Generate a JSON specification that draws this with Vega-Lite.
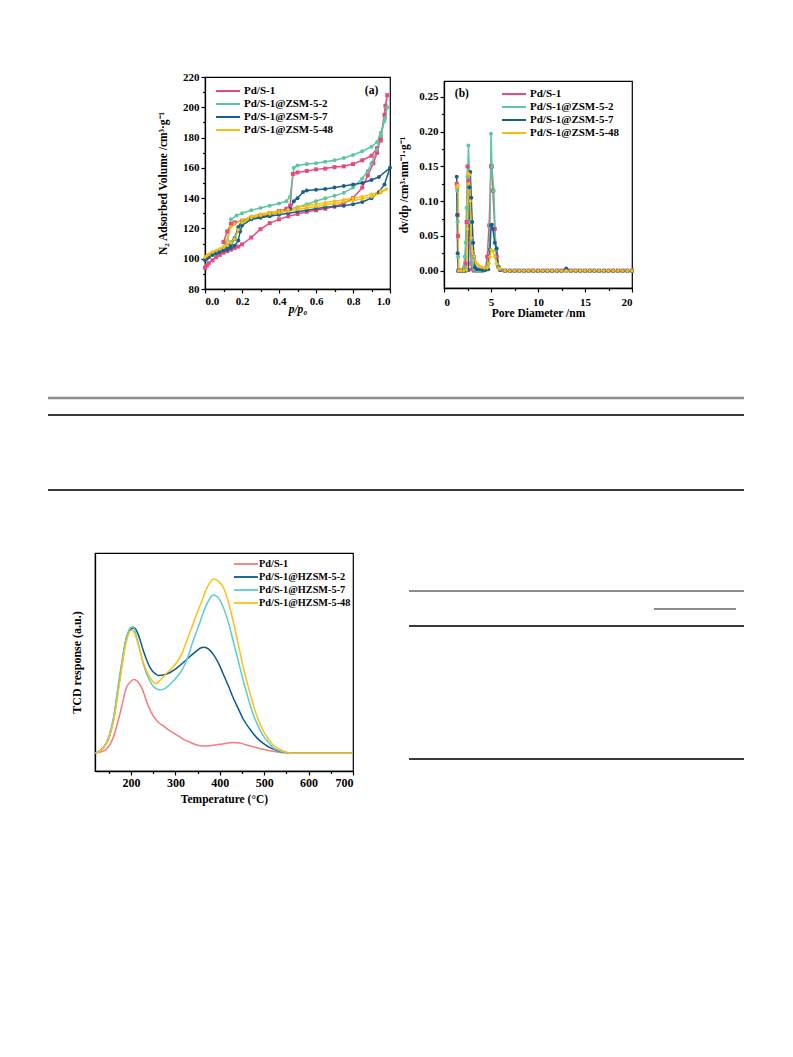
{
"$schema": "https://vega.github.io/schema/vega-lite/v6.json",
"padding": {"left": 46, "top": 70, "right": 0, "bottom": 0},
"spacing": 0,
"resolve": {"scale": {"color": "independent", "shape": "independent", "size": "independent"}, "legend": {"color": "independent", "shape": "independent", "size": "independent"}},
"config": {
  "font": "Liberation Serif",
  "view": {"stroke": null},
  "axis": {"labelFont": "Liberation Serif", "titleFont": "Liberation Serif", "labelFontWeight": "bold", "titleFontWeight": "bold", "labelColor": "black", "titleColor": "black", "domainColor": "black", "tickColor": "black", "grid": false, "labelFontSize": 11, "titleFontSize": 11.5, "domainWidth": 1.3, "tickWidth": 1.2, "tickSize": 4, "labelPadding": 2},
  "legend": {"labelFont": "Liberation Serif", "labelFontWeight": "bold", "labelFontSize": 11, "labelColor": "black", "symbolType": "M-2.4,0H2.4", "symbolStrokeWidth": 2, "symbolSize": 100, "rowPadding": 2, "labelOffset": 10, "padding": 0}
},
"datasets": {
"iso": [
{"s":"Pd/S-1","i":0,"x":0.0,"y":94},{"s":"Pd/S-1","i":1,"x":0.01,"y":95.5},{"s":"Pd/S-1","i":2,"x":0.02,"y":97},{"s":"Pd/S-1","i":3,"x":0.04,"y":99},{"s":"Pd/S-1","i":4,"x":0.06,"y":101},{"s":"Pd/S-1","i":5,"x":0.08,"y":102.5},{"s":"Pd/S-1","i":6,"x":0.1,"y":104},{"s":"Pd/S-1","i":7,"x":0.12,"y":105},{"s":"Pd/S-1","i":8,"x":0.14,"y":106},{"s":"Pd/S-1","i":9,"x":0.16,"y":107},{"s":"Pd/S-1","i":10,"x":0.18,"y":108},{"s":"Pd/S-1","i":11,"x":0.2,"y":109.5},{"s":"Pd/S-1","i":12,"x":0.25,"y":114},{"s":"Pd/S-1","i":13,"x":0.3,"y":119.5},{"s":"Pd/S-1","i":14,"x":0.35,"y":123.5},{"s":"Pd/S-1","i":15,"x":0.4,"y":126},{"s":"Pd/S-1","i":16,"x":0.45,"y":128},{"s":"Pd/S-1","i":17,"x":0.5,"y":129.5},{"s":"Pd/S-1","i":18,"x":0.55,"y":131},{"s":"Pd/S-1","i":19,"x":0.6,"y":132},{"s":"Pd/S-1","i":20,"x":0.65,"y":133},{"s":"Pd/S-1","i":21,"x":0.7,"y":134.5},{"s":"Pd/S-1","i":22,"x":0.75,"y":136.5},{"s":"Pd/S-1","i":23,"x":0.8,"y":140},{"s":"Pd/S-1","i":24,"x":0.85,"y":147},{"s":"Pd/S-1","i":25,"x":0.88,"y":155},{"s":"Pd/S-1","i":26,"x":0.91,"y":163},{"s":"Pd/S-1","i":27,"x":0.93,"y":170},{"s":"Pd/S-1","i":28,"x":0.95,"y":180},{"s":"Pd/S-1","i":29,"x":0.97,"y":195},{"s":"Pd/S-1","i":30,"x":0.985,"y":208},
{"s":"Pd/S-1","i":31,"x":0.975,"y":201},{"s":"Pd/S-1","i":32,"x":0.95,"y":178},{"s":"Pd/S-1","i":33,"x":0.93,"y":173},{"s":"Pd/S-1","i":34,"x":0.9,"y":168},{"s":"Pd/S-1","i":35,"x":0.85,"y":165},{"s":"Pd/S-1","i":36,"x":0.8,"y":162.5},{"s":"Pd/S-1","i":37,"x":0.75,"y":161},{"s":"Pd/S-1","i":38,"x":0.7,"y":160.5},{"s":"Pd/S-1","i":39,"x":0.65,"y":159.5},{"s":"Pd/S-1","i":40,"x":0.6,"y":159},{"s":"Pd/S-1","i":41,"x":0.55,"y":158},{"s":"Pd/S-1","i":42,"x":0.5,"y":157},{"s":"Pd/S-1","i":43,"x":0.475,"y":156},{"s":"Pd/S-1","i":44,"x":0.46,"y":135},{"s":"Pd/S-1","i":45,"x":0.44,"y":133},{"s":"Pd/S-1","i":46,"x":0.4,"y":131.5},{"s":"Pd/S-1","i":47,"x":0.35,"y":130},{"s":"Pd/S-1","i":48,"x":0.3,"y":128.5},{"s":"Pd/S-1","i":49,"x":0.25,"y":127},{"s":"Pd/S-1","i":50,"x":0.2,"y":125},{"s":"Pd/S-1","i":51,"x":0.16,"y":124},{"s":"Pd/S-1","i":52,"x":0.14,"y":123},{"s":"Pd/S-1","i":53,"x":0.12,"y":118},{"s":"Pd/S-1","i":54,"x":0.1,"y":111},
{"s":"Pd/S-1@ZSM-5-2","i":0,"x":0.0,"y":100},{"s":"Pd/S-1@ZSM-5-2","i":1,"x":0.01,"y":101},{"s":"Pd/S-1@ZSM-5-2","i":2,"x":0.02,"y":102},{"s":"Pd/S-1@ZSM-5-2","i":3,"x":0.04,"y":103},{"s":"Pd/S-1@ZSM-5-2","i":4,"x":0.06,"y":104.5},{"s":"Pd/S-1@ZSM-5-2","i":5,"x":0.08,"y":105.5},{"s":"Pd/S-1@ZSM-5-2","i":6,"x":0.1,"y":107},{"s":"Pd/S-1@ZSM-5-2","i":7,"x":0.12,"y":109},{"s":"Pd/S-1@ZSM-5-2","i":8,"x":0.14,"y":111},{"s":"Pd/S-1@ZSM-5-2","i":9,"x":0.16,"y":114},{"s":"Pd/S-1@ZSM-5-2","i":10,"x":0.18,"y":119},{"s":"Pd/S-1@ZSM-5-2","i":11,"x":0.2,"y":124},{"s":"Pd/S-1@ZSM-5-2","i":12,"x":0.25,"y":126},{"s":"Pd/S-1@ZSM-5-2","i":13,"x":0.3,"y":127.5},{"s":"Pd/S-1@ZSM-5-2","i":14,"x":0.35,"y":129},{"s":"Pd/S-1@ZSM-5-2","i":15,"x":0.4,"y":130.5},{"s":"Pd/S-1@ZSM-5-2","i":16,"x":0.45,"y":132},{"s":"Pd/S-1@ZSM-5-2","i":17,"x":0.5,"y":134},{"s":"Pd/S-1@ZSM-5-2","i":18,"x":0.55,"y":136},{"s":"Pd/S-1@ZSM-5-2","i":19,"x":0.6,"y":138},{"s":"Pd/S-1@ZSM-5-2","i":20,"x":0.65,"y":140},{"s":"Pd/S-1@ZSM-5-2","i":21,"x":0.7,"y":141.5},{"s":"Pd/S-1@ZSM-5-2","i":22,"x":0.75,"y":143.5},{"s":"Pd/S-1@ZSM-5-2","i":23,"x":0.8,"y":147},{"s":"Pd/S-1@ZSM-5-2","i":24,"x":0.85,"y":153},{"s":"Pd/S-1@ZSM-5-2","i":25,"x":0.88,"y":158},{"s":"Pd/S-1@ZSM-5-2","i":26,"x":0.9,"y":163},{"s":"Pd/S-1@ZSM-5-2","i":27,"x":0.93,"y":172},{"s":"Pd/S-1@ZSM-5-2","i":28,"x":0.95,"y":181},{"s":"Pd/S-1@ZSM-5-2","i":29,"x":0.97,"y":191},{"s":"Pd/S-1@ZSM-5-2","i":30,"x":0.985,"y":200},
{"s":"Pd/S-1@ZSM-5-2","i":31,"x":0.975,"y":193},{"s":"Pd/S-1@ZSM-5-2","i":32,"x":0.95,"y":183},{"s":"Pd/S-1@ZSM-5-2","i":33,"x":0.93,"y":177},{"s":"Pd/S-1@ZSM-5-2","i":34,"x":0.9,"y":174},{"s":"Pd/S-1@ZSM-5-2","i":35,"x":0.85,"y":171},{"s":"Pd/S-1@ZSM-5-2","i":36,"x":0.8,"y":168.5},{"s":"Pd/S-1@ZSM-5-2","i":37,"x":0.75,"y":166.5},{"s":"Pd/S-1@ZSM-5-2","i":38,"x":0.7,"y":165},{"s":"Pd/S-1@ZSM-5-2","i":39,"x":0.65,"y":164},{"s":"Pd/S-1@ZSM-5-2","i":40,"x":0.6,"y":163},{"s":"Pd/S-1@ZSM-5-2","i":41,"x":0.55,"y":162.5},{"s":"Pd/S-1@ZSM-5-2","i":42,"x":0.5,"y":161.5},{"s":"Pd/S-1@ZSM-5-2","i":43,"x":0.48,"y":160},{"s":"Pd/S-1@ZSM-5-2","i":44,"x":0.46,"y":141},{"s":"Pd/S-1@ZSM-5-2","i":45,"x":0.44,"y":138},{"s":"Pd/S-1@ZSM-5-2","i":46,"x":0.4,"y":136.5},{"s":"Pd/S-1@ZSM-5-2","i":47,"x":0.35,"y":135},{"s":"Pd/S-1@ZSM-5-2","i":48,"x":0.3,"y":133.5},{"s":"Pd/S-1@ZSM-5-2","i":49,"x":0.25,"y":132},{"s":"Pd/S-1@ZSM-5-2","i":50,"x":0.2,"y":130},{"s":"Pd/S-1@ZSM-5-2","i":51,"x":0.17,"y":128.5},{"s":"Pd/S-1@ZSM-5-2","i":52,"x":0.14,"y":126},{"s":"Pd/S-1@ZSM-5-2","i":53,"x":0.12,"y":112},{"s":"Pd/S-1@ZSM-5-2","i":54,"x":0.1,"y":107},
{"s":"Pd/S-1@ZSM-5-7","i":0,"x":0.0,"y":99},{"s":"Pd/S-1@ZSM-5-7","i":1,"x":0.01,"y":100},{"s":"Pd/S-1@ZSM-5-7","i":2,"x":0.02,"y":101},{"s":"Pd/S-1@ZSM-5-7","i":3,"x":0.04,"y":102.5},{"s":"Pd/S-1@ZSM-5-7","i":4,"x":0.06,"y":103.5},{"s":"Pd/S-1@ZSM-5-7","i":5,"x":0.08,"y":104.5},{"s":"Pd/S-1@ZSM-5-7","i":6,"x":0.1,"y":105.5},{"s":"Pd/S-1@ZSM-5-7","i":7,"x":0.12,"y":106},{"s":"Pd/S-1@ZSM-5-7","i":8,"x":0.14,"y":107},{"s":"Pd/S-1@ZSM-5-7","i":9,"x":0.16,"y":108.5},{"s":"Pd/S-1@ZSM-5-7","i":10,"x":0.18,"y":112},{"s":"Pd/S-1@ZSM-5-7","i":11,"x":0.19,"y":118},{"s":"Pd/S-1@ZSM-5-7","i":12,"x":0.2,"y":122},{"s":"Pd/S-1@ZSM-5-7","i":13,"x":0.25,"y":126},{"s":"Pd/S-1@ZSM-5-7","i":14,"x":0.3,"y":127},{"s":"Pd/S-1@ZSM-5-7","i":15,"x":0.35,"y":128},{"s":"Pd/S-1@ZSM-5-7","i":16,"x":0.4,"y":129},{"s":"Pd/S-1@ZSM-5-7","i":17,"x":0.45,"y":130},{"s":"Pd/S-1@ZSM-5-7","i":18,"x":0.5,"y":131},{"s":"Pd/S-1@ZSM-5-7","i":19,"x":0.55,"y":132},{"s":"Pd/S-1@ZSM-5-7","i":20,"x":0.6,"y":133},{"s":"Pd/S-1@ZSM-5-7","i":21,"x":0.65,"y":134},{"s":"Pd/S-1@ZSM-5-7","i":22,"x":0.7,"y":134.5},{"s":"Pd/S-1@ZSM-5-7","i":23,"x":0.75,"y":135},{"s":"Pd/S-1@ZSM-5-7","i":24,"x":0.8,"y":136},{"s":"Pd/S-1@ZSM-5-7","i":25,"x":0.85,"y":137.5},{"s":"Pd/S-1@ZSM-5-7","i":26,"x":0.9,"y":140},{"s":"Pd/S-1@ZSM-5-7","i":27,"x":0.94,"y":144},{"s":"Pd/S-1@ZSM-5-7","i":28,"x":0.97,"y":149},{"s":"Pd/S-1@ZSM-5-7","i":29,"x":1.0,"y":160},
{"s":"Pd/S-1@ZSM-5-7","i":30,"x":0.94,"y":154},{"s":"Pd/S-1@ZSM-5-7","i":31,"x":0.9,"y":152},{"s":"Pd/S-1@ZSM-5-7","i":32,"x":0.85,"y":150},{"s":"Pd/S-1@ZSM-5-7","i":33,"x":0.8,"y":149},{"s":"Pd/S-1@ZSM-5-7","i":34,"x":0.75,"y":148},{"s":"Pd/S-1@ZSM-5-7","i":35,"x":0.7,"y":147},{"s":"Pd/S-1@ZSM-5-7","i":36,"x":0.65,"y":146},{"s":"Pd/S-1@ZSM-5-7","i":37,"x":0.6,"y":145.5},{"s":"Pd/S-1@ZSM-5-7","i":38,"x":0.55,"y":145},{"s":"Pd/S-1@ZSM-5-7","i":39,"x":0.53,"y":144},{"s":"Pd/S-1@ZSM-5-7","i":40,"x":0.5,"y":140},{"s":"Pd/S-1@ZSM-5-7","i":41,"x":0.48,"y":138},{"s":"Pd/S-1@ZSM-5-7","i":42,"x":0.46,"y":133},{"s":"Pd/S-1@ZSM-5-7","i":43,"x":0.4,"y":131},{"s":"Pd/S-1@ZSM-5-7","i":44,"x":0.35,"y":129},{"s":"Pd/S-1@ZSM-5-7","i":45,"x":0.3,"y":128},{"s":"Pd/S-1@ZSM-5-7","i":46,"x":0.25,"y":127},{"s":"Pd/S-1@ZSM-5-7","i":47,"x":0.2,"y":125},{"s":"Pd/S-1@ZSM-5-7","i":48,"x":0.18,"y":121},{"s":"Pd/S-1@ZSM-5-7","i":49,"x":0.16,"y":113},{"s":"Pd/S-1@ZSM-5-7","i":50,"x":0.14,"y":109},{"s":"Pd/S-1@ZSM-5-7","i":51,"x":0.12,"y":106.5},
{"s":"Pd/S-1@ZSM-5-48","i":0,"x":0.0,"y":101},{"s":"Pd/S-1@ZSM-5-48","i":1,"x":0.01,"y":102},{"s":"Pd/S-1@ZSM-5-48","i":2,"x":0.02,"y":103},{"s":"Pd/S-1@ZSM-5-48","i":3,"x":0.04,"y":104.5},{"s":"Pd/S-1@ZSM-5-48","i":4,"x":0.06,"y":105.5},{"s":"Pd/S-1@ZSM-5-48","i":5,"x":0.08,"y":106.5},{"s":"Pd/S-1@ZSM-5-48","i":6,"x":0.1,"y":107.5},{"s":"Pd/S-1@ZSM-5-48","i":7,"x":0.12,"y":109},{"s":"Pd/S-1@ZSM-5-48","i":8,"x":0.14,"y":110.5},{"s":"Pd/S-1@ZSM-5-48","i":9,"x":0.16,"y":113},{"s":"Pd/S-1@ZSM-5-48","i":10,"x":0.18,"y":119},{"s":"Pd/S-1@ZSM-5-48","i":11,"x":0.2,"y":124},{"s":"Pd/S-1@ZSM-5-48","i":12,"x":0.25,"y":127},{"s":"Pd/S-1@ZSM-5-48","i":13,"x":0.3,"y":128.5},{"s":"Pd/S-1@ZSM-5-48","i":14,"x":0.35,"y":129.5},{"s":"Pd/S-1@ZSM-5-48","i":15,"x":0.4,"y":130.5},{"s":"Pd/S-1@ZSM-5-48","i":16,"x":0.45,"y":131.5},{"s":"Pd/S-1@ZSM-5-48","i":17,"x":0.5,"y":132.5},{"s":"Pd/S-1@ZSM-5-48","i":18,"x":0.55,"y":133.5},{"s":"Pd/S-1@ZSM-5-48","i":19,"x":0.6,"y":134.5},{"s":"Pd/S-1@ZSM-5-48","i":20,"x":0.65,"y":135.5},{"s":"Pd/S-1@ZSM-5-48","i":21,"x":0.7,"y":136.5},{"s":"Pd/S-1@ZSM-5-48","i":22,"x":0.75,"y":137.5},{"s":"Pd/S-1@ZSM-5-48","i":23,"x":0.8,"y":138.5},{"s":"Pd/S-1@ZSM-5-48","i":24,"x":0.85,"y":139.5},{"s":"Pd/S-1@ZSM-5-48","i":25,"x":0.9,"y":141},{"s":"Pd/S-1@ZSM-5-48","i":26,"x":0.95,"y":143.5},{"s":"Pd/S-1@ZSM-5-48","i":27,"x":0.98,"y":146},
{"s":"Pd/S-1@ZSM-5-48","i":28,"x":0.95,"y":144.5},{"s":"Pd/S-1@ZSM-5-48","i":29,"x":0.9,"y":142.5},{"s":"Pd/S-1@ZSM-5-48","i":30,"x":0.85,"y":141},{"s":"Pd/S-1@ZSM-5-48","i":31,"x":0.8,"y":140},{"s":"Pd/S-1@ZSM-5-48","i":32,"x":0.75,"y":139},{"s":"Pd/S-1@ZSM-5-48","i":33,"x":0.7,"y":138},{"s":"Pd/S-1@ZSM-5-48","i":34,"x":0.65,"y":137},{"s":"Pd/S-1@ZSM-5-48","i":35,"x":0.6,"y":136},{"s":"Pd/S-1@ZSM-5-48","i":36,"x":0.55,"y":135},{"s":"Pd/S-1@ZSM-5-48","i":37,"x":0.5,"y":134},{"s":"Pd/S-1@ZSM-5-48","i":38,"x":0.45,"y":132.5},{"s":"Pd/S-1@ZSM-5-48","i":39,"x":0.4,"y":131.5},{"s":"Pd/S-1@ZSM-5-48","i":40,"x":0.35,"y":130.5},{"s":"Pd/S-1@ZSM-5-48","i":41,"x":0.3,"y":129.5},{"s":"Pd/S-1@ZSM-5-48","i":42,"x":0.25,"y":128},{"s":"Pd/S-1@ZSM-5-48","i":43,"x":0.2,"y":125.5},{"s":"Pd/S-1@ZSM-5-48","i":44,"x":0.16,"y":123},{"s":"Pd/S-1@ZSM-5-48","i":45,"x":0.14,"y":121},{"s":"Pd/S-1@ZSM-5-48","i":46,"x":0.12,"y":112},{"s":"Pd/S-1@ZSM-5-48","i":47,"x":0.1,"y":108}
],
"psd": [
{"s":"Pd/S-1","x":1.35,"y":0.125},{"s":"Pd/S-1","x":1.4,"y":0.12},{"s":"Pd/S-1","x":1.45,"y":0.08},{"s":"Pd/S-1","x":1.5,"y":0.05},{"s":"Pd/S-1","x":1.55,"y":0.0},{"s":"Pd/S-1","x":1.7,"y":0},{"s":"Pd/S-1","x":1.9,"y":0},{"s":"Pd/S-1","x":2.1,"y":0},{"s":"Pd/S-1","x":2.2,"y":0.002},{"s":"Pd/S-1","x":2.3,"y":0.01},{"s":"Pd/S-1","x":2.4,"y":0.07},{"s":"Pd/S-1","x":2.5,"y":0.15},{"s":"Pd/S-1","x":2.6,"y":0.13},{"s":"Pd/S-1","x":2.7,"y":0.07},{"s":"Pd/S-1","x":2.8,"y":0.04},{"s":"Pd/S-1","x":2.9,"y":0.01},{"s":"Pd/S-1","x":3.0,"y":0.002},{"s":"Pd/S-1","x":3.2,"y":0},{"s":"Pd/S-1","x":3.5,"y":0},{"s":"Pd/S-1","x":3.8,"y":0},{"s":"Pd/S-1","x":4.1,"y":0},{"s":"Pd/S-1","x":4.4,"y":0.002},{"s":"Pd/S-1","x":4.6,"y":0.02},{"s":"Pd/S-1","x":4.8,"y":0.065},{"s":"Pd/S-1","x":5.0,"y":0.15},{"s":"Pd/S-1","x":5.1,"y":0.15},{"s":"Pd/S-1","x":5.2,"y":0.115},{"s":"Pd/S-1","x":5.4,"y":0.06},{"s":"Pd/S-1","x":5.6,"y":0.02},{"s":"Pd/S-1","x":5.8,"y":0.005},{"s":"Pd/S-1","x":6.0,"y":0.001},
{"s":"Pd/S-1","x":6.5,"y":0},{"s":"Pd/S-1","x":7,"y":0},{"s":"Pd/S-1","x":7.5,"y":0},{"s":"Pd/S-1","x":8,"y":0},{"s":"Pd/S-1","x":8.5,"y":0},{"s":"Pd/S-1","x":9,"y":0},{"s":"Pd/S-1","x":9.5,"y":0},{"s":"Pd/S-1","x":10,"y":0},{"s":"Pd/S-1","x":10.5,"y":0},{"s":"Pd/S-1","x":11,"y":0},{"s":"Pd/S-1","x":11.5,"y":0},{"s":"Pd/S-1","x":12,"y":0},{"s":"Pd/S-1","x":12.5,"y":0},{"s":"Pd/S-1","x":13,"y":0},{"s":"Pd/S-1","x":13.5,"y":0},{"s":"Pd/S-1","x":14,"y":0},{"s":"Pd/S-1","x":14.5,"y":0},{"s":"Pd/S-1","x":15,"y":0},{"s":"Pd/S-1","x":15.5,"y":0},{"s":"Pd/S-1","x":16,"y":0},{"s":"Pd/S-1","x":16.5,"y":0},{"s":"Pd/S-1","x":17,"y":0},{"s":"Pd/S-1","x":17.5,"y":0},{"s":"Pd/S-1","x":18,"y":0},{"s":"Pd/S-1","x":18.5,"y":0},{"s":"Pd/S-1","x":19,"y":0},{"s":"Pd/S-1","x":19.5,"y":0},{"s":"Pd/S-1","x":20,"y":0},
{"s":"Pd/S-1@ZSM-5-2","x":1.35,"y":0.12},{"s":"Pd/S-1@ZSM-5-2","x":1.4,"y":0.115},{"s":"Pd/S-1@ZSM-5-2","x":1.45,"y":0.07},{"s":"Pd/S-1@ZSM-5-2","x":1.5,"y":0.02},{"s":"Pd/S-1@ZSM-5-2","x":1.55,"y":0.0},{"s":"Pd/S-1@ZSM-5-2","x":1.8,"y":0},{"s":"Pd/S-1@ZSM-5-2","x":2.0,"y":0},{"s":"Pd/S-1@ZSM-5-2","x":2.1,"y":0.005},{"s":"Pd/S-1@ZSM-5-2","x":2.2,"y":0.02},{"s":"Pd/S-1@ZSM-5-2","x":2.3,"y":0.04},{"s":"Pd/S-1@ZSM-5-2","x":2.4,"y":0.09},{"s":"Pd/S-1@ZSM-5-2","x":2.5,"y":0.135},{"s":"Pd/S-1@ZSM-5-2","x":2.6,"y":0.18},{"s":"Pd/S-1@ZSM-5-2","x":2.7,"y":0.14},{"s":"Pd/S-1@ZSM-5-2","x":2.8,"y":0.07},{"s":"Pd/S-1@ZSM-5-2","x":2.9,"y":0.04},{"s":"Pd/S-1@ZSM-5-2","x":3.0,"y":0.01},{"s":"Pd/S-1@ZSM-5-2","x":3.2,"y":0.002},{"s":"Pd/S-1@ZSM-5-2","x":3.5,"y":0},{"s":"Pd/S-1@ZSM-5-2","x":3.8,"y":0},{"s":"Pd/S-1@ZSM-5-2","x":4.1,"y":0},{"s":"Pd/S-1@ZSM-5-2","x":4.4,"y":0.002},{"s":"Pd/S-1@ZSM-5-2","x":4.6,"y":0.006},{"s":"Pd/S-1@ZSM-5-2","x":4.8,"y":0.03},{"s":"Pd/S-1@ZSM-5-2","x":4.9,"y":0.065},{"s":"Pd/S-1@ZSM-5-2","x":5.0,"y":0.197},{"s":"Pd/S-1@ZSM-5-2","x":5.1,"y":0.15},{"s":"Pd/S-1@ZSM-5-2","x":5.3,"y":0.115},{"s":"Pd/S-1@ZSM-5-2","x":5.5,"y":0.03},{"s":"Pd/S-1@ZSM-5-2","x":5.7,"y":0.008},{"s":"Pd/S-1@ZSM-5-2","x":6.0,"y":0.001},
{"s":"Pd/S-1@ZSM-5-2","x":6.5,"y":0},{"s":"Pd/S-1@ZSM-5-2","x":7,"y":0},{"s":"Pd/S-1@ZSM-5-2","x":7.5,"y":0},{"s":"Pd/S-1@ZSM-5-2","x":8,"y":0},{"s":"Pd/S-1@ZSM-5-2","x":8.5,"y":0},{"s":"Pd/S-1@ZSM-5-2","x":9,"y":0},{"s":"Pd/S-1@ZSM-5-2","x":9.5,"y":0},{"s":"Pd/S-1@ZSM-5-2","x":10,"y":0},{"s":"Pd/S-1@ZSM-5-2","x":10.5,"y":0},{"s":"Pd/S-1@ZSM-5-2","x":11,"y":0},{"s":"Pd/S-1@ZSM-5-2","x":11.5,"y":0},{"s":"Pd/S-1@ZSM-5-2","x":12,"y":0},{"s":"Pd/S-1@ZSM-5-2","x":12.5,"y":0},{"s":"Pd/S-1@ZSM-5-2","x":13,"y":0},{"s":"Pd/S-1@ZSM-5-2","x":13.5,"y":0},{"s":"Pd/S-1@ZSM-5-2","x":14,"y":0},{"s":"Pd/S-1@ZSM-5-2","x":14.5,"y":0},{"s":"Pd/S-1@ZSM-5-2","x":15,"y":0},{"s":"Pd/S-1@ZSM-5-2","x":15.5,"y":0},{"s":"Pd/S-1@ZSM-5-2","x":16,"y":0},{"s":"Pd/S-1@ZSM-5-2","x":16.5,"y":0},{"s":"Pd/S-1@ZSM-5-2","x":17,"y":0},{"s":"Pd/S-1@ZSM-5-2","x":17.5,"y":0},{"s":"Pd/S-1@ZSM-5-2","x":18,"y":0},{"s":"Pd/S-1@ZSM-5-2","x":18.5,"y":0},{"s":"Pd/S-1@ZSM-5-2","x":19,"y":0},{"s":"Pd/S-1@ZSM-5-2","x":19.5,"y":0},{"s":"Pd/S-1@ZSM-5-2","x":20,"y":0},
{"s":"Pd/S-1@ZSM-5-7","x":1.35,"y":0.135},{"s":"Pd/S-1@ZSM-5-7","x":1.4,"y":0.08},{"s":"Pd/S-1@ZSM-5-7","x":1.45,"y":0.025},{"s":"Pd/S-1@ZSM-5-7","x":1.5,"y":0},{"s":"Pd/S-1@ZSM-5-7","x":1.7,"y":0},{"s":"Pd/S-1@ZSM-5-7","x":2.0,"y":0},{"s":"Pd/S-1@ZSM-5-7","x":2.3,"y":0},{"s":"Pd/S-1@ZSM-5-7","x":2.6,"y":0.001},{"s":"Pd/S-1@ZSM-5-7","x":2.7,"y":0.12},{"s":"Pd/S-1@ZSM-5-7","x":2.8,"y":0.142},{"s":"Pd/S-1@ZSM-5-7","x":2.9,"y":0.105},{"s":"Pd/S-1@ZSM-5-7","x":3.0,"y":0.07},{"s":"Pd/S-1@ZSM-5-7","x":3.1,"y":0.04},{"s":"Pd/S-1@ZSM-5-7","x":3.2,"y":0.02},{"s":"Pd/S-1@ZSM-5-7","x":3.3,"y":0.005},{"s":"Pd/S-1@ZSM-5-7","x":3.5,"y":0.002},{"s":"Pd/S-1@ZSM-5-7","x":3.8,"y":0.002},{"s":"Pd/S-1@ZSM-5-7","x":4.1,"y":0.001},{"s":"Pd/S-1@ZSM-5-7","x":4.4,"y":0.001},{"s":"Pd/S-1@ZSM-5-7","x":4.7,"y":0.002},{"s":"Pd/S-1@ZSM-5-7","x":4.9,"y":0.03},{"s":"Pd/S-1@ZSM-5-7","x":5.0,"y":0.065},{"s":"Pd/S-1@ZSM-5-7","x":5.1,"y":0.066},{"s":"Pd/S-1@ZSM-5-7","x":5.2,"y":0.06},{"s":"Pd/S-1@ZSM-5-7","x":5.4,"y":0.04},{"s":"Pd/S-1@ZSM-5-7","x":5.6,"y":0.032},{"s":"Pd/S-1@ZSM-5-7","x":5.8,"y":0.005},{"s":"Pd/S-1@ZSM-5-7","x":6.0,"y":0.001},
{"s":"Pd/S-1@ZSM-5-7","x":6.5,"y":0},{"s":"Pd/S-1@ZSM-5-7","x":7,"y":0},{"s":"Pd/S-1@ZSM-5-7","x":7.5,"y":0},{"s":"Pd/S-1@ZSM-5-7","x":8,"y":0},{"s":"Pd/S-1@ZSM-5-7","x":8.5,"y":0},{"s":"Pd/S-1@ZSM-5-7","x":9,"y":0},{"s":"Pd/S-1@ZSM-5-7","x":9.5,"y":0},{"s":"Pd/S-1@ZSM-5-7","x":10,"y":0},{"s":"Pd/S-1@ZSM-5-7","x":10.5,"y":0},{"s":"Pd/S-1@ZSM-5-7","x":11,"y":0},{"s":"Pd/S-1@ZSM-5-7","x":11.5,"y":0},{"s":"Pd/S-1@ZSM-5-7","x":12,"y":0},{"s":"Pd/S-1@ZSM-5-7","x":12.5,"y":0},{"s":"Pd/S-1@ZSM-5-7","x":13,"y":0.003},{"s":"Pd/S-1@ZSM-5-7","x":13.5,"y":0},{"s":"Pd/S-1@ZSM-5-7","x":14,"y":0},{"s":"Pd/S-1@ZSM-5-7","x":14.5,"y":0},{"s":"Pd/S-1@ZSM-5-7","x":15,"y":0},{"s":"Pd/S-1@ZSM-5-7","x":15.5,"y":0},{"s":"Pd/S-1@ZSM-5-7","x":16,"y":0},{"s":"Pd/S-1@ZSM-5-7","x":16.5,"y":0},{"s":"Pd/S-1@ZSM-5-7","x":17,"y":0},{"s":"Pd/S-1@ZSM-5-7","x":17.5,"y":0},{"s":"Pd/S-1@ZSM-5-7","x":18,"y":0},{"s":"Pd/S-1@ZSM-5-7","x":18.5,"y":0},{"s":"Pd/S-1@ZSM-5-7","x":19,"y":0},{"s":"Pd/S-1@ZSM-5-7","x":19.5,"y":0},{"s":"Pd/S-1@ZSM-5-7","x":20,"y":0},
{"s":"Pd/S-1@ZSM-5-48","x":1.35,"y":0.12},{"s":"Pd/S-1@ZSM-5-48","x":1.4,"y":0.122},{"s":"Pd/S-1@ZSM-5-48","x":1.5,"y":0.122},{"s":"Pd/S-1@ZSM-5-48","x":1.55,"y":0},{"s":"Pd/S-1@ZSM-5-48","x":1.8,"y":0},{"s":"Pd/S-1@ZSM-5-48","x":2.1,"y":0},{"s":"Pd/S-1@ZSM-5-48","x":2.4,"y":0.001},{"s":"Pd/S-1@ZSM-5-48","x":2.5,"y":0.06},{"s":"Pd/S-1@ZSM-5-48","x":2.6,"y":0.14},{"s":"Pd/S-1@ZSM-5-48","x":2.7,"y":0.138},{"s":"Pd/S-1@ZSM-5-48","x":2.8,"y":0.1},{"s":"Pd/S-1@ZSM-5-48","x":2.9,"y":0.047},{"s":"Pd/S-1@ZSM-5-48","x":3.0,"y":0.028},{"s":"Pd/S-1@ZSM-5-48","x":3.2,"y":0.02},{"s":"Pd/S-1@ZSM-5-48","x":3.4,"y":0.012},{"s":"Pd/S-1@ZSM-5-48","x":3.6,"y":0.009},{"s":"Pd/S-1@ZSM-5-48","x":3.8,"y":0.006},{"s":"Pd/S-1@ZSM-5-48","x":4.0,"y":0.005},{"s":"Pd/S-1@ZSM-5-48","x":4.3,"y":0.004},{"s":"Pd/S-1@ZSM-5-48","x":4.6,"y":0.004},{"s":"Pd/S-1@ZSM-5-48","x":4.8,"y":0.01},{"s":"Pd/S-1@ZSM-5-48","x":4.9,"y":0.02},{"s":"Pd/S-1@ZSM-5-48","x":5.0,"y":0.03},{"s":"Pd/S-1@ZSM-5-48","x":5.2,"y":0.028},{"s":"Pd/S-1@ZSM-5-48","x":5.4,"y":0.02},{"s":"Pd/S-1@ZSM-5-48","x":5.6,"y":0.01},{"s":"Pd/S-1@ZSM-5-48","x":5.8,"y":0.004},{"s":"Pd/S-1@ZSM-5-48","x":6.0,"y":0.002},
{"s":"Pd/S-1@ZSM-5-48","x":6.5,"y":0},{"s":"Pd/S-1@ZSM-5-48","x":7,"y":0},{"s":"Pd/S-1@ZSM-5-48","x":7.5,"y":0},{"s":"Pd/S-1@ZSM-5-48","x":8,"y":0},{"s":"Pd/S-1@ZSM-5-48","x":8.5,"y":0},{"s":"Pd/S-1@ZSM-5-48","x":9,"y":0},{"s":"Pd/S-1@ZSM-5-48","x":9.5,"y":0},{"s":"Pd/S-1@ZSM-5-48","x":10,"y":0},{"s":"Pd/S-1@ZSM-5-48","x":10.5,"y":0},{"s":"Pd/S-1@ZSM-5-48","x":11,"y":0},{"s":"Pd/S-1@ZSM-5-48","x":11.5,"y":0},{"s":"Pd/S-1@ZSM-5-48","x":12,"y":0},{"s":"Pd/S-1@ZSM-5-48","x":12.5,"y":0},{"s":"Pd/S-1@ZSM-5-48","x":13,"y":0},{"s":"Pd/S-1@ZSM-5-48","x":13.5,"y":0},{"s":"Pd/S-1@ZSM-5-48","x":14,"y":0},{"s":"Pd/S-1@ZSM-5-48","x":14.5,"y":0},{"s":"Pd/S-1@ZSM-5-48","x":15,"y":0},{"s":"Pd/S-1@ZSM-5-48","x":15.5,"y":0},{"s":"Pd/S-1@ZSM-5-48","x":16,"y":0},{"s":"Pd/S-1@ZSM-5-48","x":16.5,"y":0},{"s":"Pd/S-1@ZSM-5-48","x":17,"y":0},{"s":"Pd/S-1@ZSM-5-48","x":17.5,"y":0},{"s":"Pd/S-1@ZSM-5-48","x":18,"y":0},{"s":"Pd/S-1@ZSM-5-48","x":18.5,"y":0},{"s":"Pd/S-1@ZSM-5-48","x":19,"y":0},{"s":"Pd/S-1@ZSM-5-48","x":19.5,"y":0},{"s":"Pd/S-1@ZSM-5-48","x":20,"y":0}
],
"tpd": [
{"s":"Pd/S-1","t":120,"v":0},{"s":"Pd/S-1","t":140,"v":8},{"s":"Pd/S-1","t":160,"v":47},{"s":"Pd/S-1","t":175,"v":117},{"s":"Pd/S-1","t":190,"v":197},{"s":"Pd/S-1","t":200,"v":216},{"s":"Pd/S-1","t":207,"v":221},{"s":"Pd/S-1","t":215,"v":215},{"s":"Pd/S-1","t":224,"v":197},{"s":"Pd/S-1","t":239,"v":142},{"s":"Pd/S-1","t":250,"v":112},{"s":"Pd/S-1","t":261,"v":94},{"s":"Pd/S-1","t":275,"v":80},{"s":"Pd/S-1","t":288,"v":67},{"s":"Pd/S-1","t":303,"v":55},{"s":"Pd/S-1","t":318,"v":42},{"s":"Pd/S-1","t":333,"v":33},{"s":"Pd/S-1","t":348,"v":25},{"s":"Pd/S-1","t":363,"v":22},{"s":"Pd/S-1","t":378,"v":23},{"s":"Pd/S-1","t":400,"v":27},{"s":"Pd/S-1","t":430,"v":32},{"s":"Pd/S-1","t":445,"v":31},{"s":"Pd/S-1","t":460,"v":25},{"s":"Pd/S-1","t":480,"v":18},{"s":"Pd/S-1","t":498,"v":12},{"s":"Pd/S-1","t":520,"v":6},{"s":"Pd/S-1","t":543,"v":2},{"s":"Pd/S-1","t":560,"v":0},{"s":"Pd/S-1","t":600,"v":0},{"s":"Pd/S-1","t":650,"v":0},{"s":"Pd/S-1","t":700,"v":0},
{"s":"Pd/S-1@HZSM-5-2","t":120,"v":0},{"s":"Pd/S-1@HZSM-5-2","t":138,"v":17},{"s":"Pd/S-1@HZSM-5-2","t":150,"v":45},{"s":"Pd/S-1@HZSM-5-2","t":160,"v":97},{"s":"Pd/S-1@HZSM-5-2","t":175,"v":227},{"s":"Pd/S-1@HZSM-5-2","t":190,"v":347},{"s":"Pd/S-1@HZSM-5-2","t":200,"v":372},{"s":"Pd/S-1@HZSM-5-2","t":208,"v":375},{"s":"Pd/S-1@HZSM-5-2","t":216,"v":357},{"s":"Pd/S-1@HZSM-5-2","t":228,"v":307},{"s":"Pd/S-1@HZSM-5-2","t":243,"v":257},{"s":"Pd/S-1@HZSM-5-2","t":255,"v":238},{"s":"Pd/S-1@HZSM-5-2","t":262,"v":233},{"s":"Pd/S-1@HZSM-5-2","t":275,"v":235},{"s":"Pd/S-1@HZSM-5-2","t":288,"v":242},{"s":"Pd/S-1@HZSM-5-2","t":303,"v":255},{"s":"Pd/S-1@HZSM-5-2","t":318,"v":272},{"s":"Pd/S-1@HZSM-5-2","t":333,"v":290},{"s":"Pd/S-1@HZSM-5-2","t":348,"v":307},{"s":"Pd/S-1@HZSM-5-2","t":358,"v":316},{"s":"Pd/S-1@HZSM-5-2","t":365,"v":318},{"s":"Pd/S-1@HZSM-5-2","t":375,"v":312},{"s":"Pd/S-1@HZSM-5-2","t":385,"v":297},{"s":"Pd/S-1@HZSM-5-2","t":397,"v":270},{"s":"Pd/S-1@HZSM-5-2","t":408,"v":237},{"s":"Pd/S-1@HZSM-5-2","t":420,"v":200},{"s":"Pd/S-1@HZSM-5-2","t":430,"v":167},{"s":"Pd/S-1@HZSM-5-2","t":442,"v":133},{"s":"Pd/S-1@HZSM-5-2","t":453,"v":102},{"s":"Pd/S-1@HZSM-5-2","t":468,"v":72},{"s":"Pd/S-1@HZSM-5-2","t":483,"v":47},{"s":"Pd/S-1@HZSM-5-2","t":498,"v":30},{"s":"Pd/S-1@HZSM-5-2","t":513,"v":17},{"s":"Pd/S-1@HZSM-5-2","t":528,"v":9},{"s":"Pd/S-1@HZSM-5-2","t":543,"v":4},{"s":"Pd/S-1@HZSM-5-2","t":560,"v":0},{"s":"Pd/S-1@HZSM-5-2","t":600,"v":0},{"s":"Pd/S-1@HZSM-5-2","t":650,"v":0},{"s":"Pd/S-1@HZSM-5-2","t":700,"v":0},
{"s":"Pd/S-1@HZSM-5-7","t":120,"v":0},{"s":"Pd/S-1@HZSM-5-7","t":138,"v":18},{"s":"Pd/S-1@HZSM-5-7","t":150,"v":50},{"s":"Pd/S-1@HZSM-5-7","t":160,"v":102},{"s":"Pd/S-1@HZSM-5-7","t":175,"v":237},{"s":"Pd/S-1@HZSM-5-7","t":190,"v":347},{"s":"Pd/S-1@HZSM-5-7","t":200,"v":378},{"s":"Pd/S-1@HZSM-5-7","t":205,"v":379},{"s":"Pd/S-1@HZSM-5-7","t":213,"v":347},{"s":"Pd/S-1@HZSM-5-7","t":228,"v":267},{"s":"Pd/S-1@HZSM-5-7","t":246,"v":209},{"s":"Pd/S-1@HZSM-5-7","t":255,"v":195},{"s":"Pd/S-1@HZSM-5-7","t":264,"v":190},{"s":"Pd/S-1@HZSM-5-7","t":275,"v":193},{"s":"Pd/S-1@HZSM-5-7","t":288,"v":207},{"s":"Pd/S-1@HZSM-5-7","t":303,"v":228},{"s":"Pd/S-1@HZSM-5-7","t":318,"v":257},{"s":"Pd/S-1@HZSM-5-7","t":330,"v":295},{"s":"Pd/S-1@HZSM-5-7","t":340,"v":337},{"s":"Pd/S-1@HZSM-5-7","t":352,"v":380},{"s":"Pd/S-1@HZSM-5-7","t":363,"v":422},{"s":"Pd/S-1@HZSM-5-7","t":375,"v":458},{"s":"Pd/S-1@HZSM-5-7","t":385,"v":474},{"s":"Pd/S-1@HZSM-5-7","t":395,"v":468},{"s":"Pd/S-1@HZSM-5-7","t":408,"v":437},{"s":"Pd/S-1@HZSM-5-7","t":420,"v":390},{"s":"Pd/S-1@HZSM-5-7","t":430,"v":337},{"s":"Pd/S-1@HZSM-5-7","t":442,"v":275},{"s":"Pd/S-1@HZSM-5-7","t":453,"v":217},{"s":"Pd/S-1@HZSM-5-7","t":465,"v":160},{"s":"Pd/S-1@HZSM-5-7","t":475,"v":117},{"s":"Pd/S-1@HZSM-5-7","t":487,"v":80},{"s":"Pd/S-1@HZSM-5-7","t":498,"v":52},{"s":"Pd/S-1@HZSM-5-7","t":510,"v":32},{"s":"Pd/S-1@HZSM-5-7","t":520,"v":17},{"s":"Pd/S-1@HZSM-5-7","t":532,"v":9},{"s":"Pd/S-1@HZSM-5-7","t":543,"v":4},{"s":"Pd/S-1@HZSM-5-7","t":560,"v":0},{"s":"Pd/S-1@HZSM-5-7","t":600,"v":0},{"s":"Pd/S-1@HZSM-5-7","t":650,"v":0},{"s":"Pd/S-1@HZSM-5-7","t":700,"v":0},
{"s":"Pd/S-1@HZSM-5-48","t":120,"v":0},{"s":"Pd/S-1@HZSM-5-48","t":138,"v":16},{"s":"Pd/S-1@HZSM-5-48","t":150,"v":45},{"s":"Pd/S-1@HZSM-5-48","t":160,"v":92},{"s":"Pd/S-1@HZSM-5-48","t":175,"v":217},{"s":"Pd/S-1@HZSM-5-48","t":190,"v":337},{"s":"Pd/S-1@HZSM-5-48","t":201,"v":369},{"s":"Pd/S-1@HZSM-5-48","t":206,"v":365},{"s":"Pd/S-1@HZSM-5-48","t":213,"v":342},{"s":"Pd/S-1@HZSM-5-48","t":228,"v":272},{"s":"Pd/S-1@HZSM-5-48","t":243,"v":227},{"s":"Pd/S-1@HZSM-5-48","t":256,"v":209},{"s":"Pd/S-1@HZSM-5-48","t":268,"v":222},{"s":"Pd/S-1@HZSM-5-48","t":280,"v":240},{"s":"Pd/S-1@HZSM-5-48","t":292,"v":255},{"s":"Pd/S-1@HZSM-5-48","t":303,"v":272},{"s":"Pd/S-1@HZSM-5-48","t":315,"v":300},{"s":"Pd/S-1@HZSM-5-48","t":325,"v":335},{"s":"Pd/S-1@HZSM-5-48","t":337,"v":377},{"s":"Pd/S-1@HZSM-5-48","t":348,"v":417},{"s":"Pd/S-1@HZSM-5-48","t":360,"v":458},{"s":"Pd/S-1@HZSM-5-48","t":370,"v":492},{"s":"Pd/S-1@HZSM-5-48","t":378,"v":512},{"s":"Pd/S-1@HZSM-5-48","t":387,"v":522},{"s":"Pd/S-1@HZSM-5-48","t":397,"v":515},{"s":"Pd/S-1@HZSM-5-48","t":408,"v":497},{"s":"Pd/S-1@HZSM-5-48","t":420,"v":450},{"s":"Pd/S-1@HZSM-5-48","t":430,"v":397},{"s":"Pd/S-1@HZSM-5-48","t":442,"v":325},{"s":"Pd/S-1@HZSM-5-48","t":453,"v":257},{"s":"Pd/S-1@HZSM-5-48","t":465,"v":195},{"s":"Pd/S-1@HZSM-5-48","t":475,"v":147},{"s":"Pd/S-1@HZSM-5-48","t":487,"v":100},{"s":"Pd/S-1@HZSM-5-48","t":498,"v":67},{"s":"Pd/S-1@HZSM-5-48","t":510,"v":42},{"s":"Pd/S-1@HZSM-5-48","t":520,"v":25},{"s":"Pd/S-1@HZSM-5-48","t":532,"v":14},{"s":"Pd/S-1@HZSM-5-48","t":543,"v":7},{"s":"Pd/S-1@HZSM-5-48","t":555,"v":2},{"s":"Pd/S-1@HZSM-5-48","t":565,"v":0},{"s":"Pd/S-1@HZSM-5-48","t":600,"v":0},{"s":"Pd/S-1@HZSM-5-48","t":650,"v":0},{"s":"Pd/S-1@HZSM-5-48","t":700,"v":0}
],
"rules1": [
{"role":"top","y":0,"x1":0,"x2":1},{"role":"mid","y":0.1107,"x1":0,"x2":1},{"role":"bottom","y":0.5993,"x1":0,"x2":1}
],
"rules2": [
{"role":"top","y":0,"x1":0,"x2":1},{"role":"sub","y":0.107,"x1":0.731,"x2":0.976},{"role":"mid","y":0.208,"x1":0,"x2":1},{"role":"bottom","y":1,"x1":0,"x2":1}
]
},
"vconcat": [
  {"bounds": "flush", "spacing": 0,
   "resolve": {"scale": {"color": "independent"}, "legend": {"color": "independent"}},
   "hconcat": [
    {"width": 157, "height": 318.5, "data": {"values": [{}]}, "mark": {"type": "text"}, "encoding": {"text": {"value": ""}}},
    {"width": 185, "height": 212, "view": {"stroke": "black", "strokeWidth": 1.2}, "data": {"name": "iso"},
     "encoding": {
       "x": {"field": "x", "type": "quantitative", "scale": {"domain": [0, 1], "nice": false, "zero": false}, "axis": {"values": [0, 0.1, 0.2, 0.3, 0.4, 0.5, 0.6, 0.7, 0.8, 0.9, 1.0], "labelExpr": "round(datum.value*10) % 2 == 0 ? format(datum.value, '.1f') : ''", "tickSize": {"condition": {"test": "round(datum.value*10) % 2 != 0", "value": 2.5}, "value": 4}, "title": "p/p₀", "titleFontStyle": "italic", "titlePadding": -3}},
       "y": {"field": "y", "type": "quantitative", "scale": {"domain": [80, 220], "nice": false, "zero": false}, "axis": {"values": [80, 90, 100, 110, 120, 130, 140, 150, 160, 170, 180, 190, 200, 210, 220], "labelExpr": "datum.value % 20 == 0 ? datum.label : ''", "tickSize": {"condition": {"test": "datum.value % 20 != 0", "value": 2.5}, "value": 4}, "title": "N₂ Adsorbed Volume /cm³·g⁻¹", "titlePadding": 14}},
       "color": {"field": "s", "type": "nominal", "scale": {"domain": ["Pd/S-1", "Pd/S-1@ZSM-5-2", "Pd/S-1@ZSM-5-7", "Pd/S-1@ZSM-5-48"], "range": ["#E84A7F", "#5BC79B", "#1B5F8F", "#F5BE10"]}, "legend": {"title": null, "orient": "none", "legendX": 17, "legendY": 8}}
     },
     "layer": [
       {"mark": {"type": "line", "strokeWidth": 1.5}, "encoding": {"order": {"field": "i", "type": "quantitative"}}},
       {"transform": [{"filter": "datum.s === 'Pd/S-1'"}], "mark": {"type": "point", "filled": true, "size": 16, "opacity": 1, "shape": "square"}},
       {"transform": [{"filter": "datum.s === 'Pd/S-1@ZSM-5-2' || datum.s === 'Pd/S-1@ZSM-5-7'"}], "mark": {"type": "point", "filled": true, "size": 16, "opacity": 1, "shape": "circle"}},
       {"transform": [{"filter": "datum.s === 'Pd/S-1@ZSM-5-48'"}], "mark": {"type": "point", "filled": true, "size": 18, "opacity": 1, "shape": "diamond"}},
       {"data": {"values": [{"x": 0.9, "y": 211, "t": "(a)"}]}, "mark": {"type": "text", "font": "Liberation Serif", "fontWeight": "bold", "fontSize": 11.5}, "encoding": {"text": {"field": "t"}, "color": {"value": "black"}}}
     ]
    },
    {"width": 54, "height": 10, "data": {"values": [{}]}, "mark": {"type": "text"}, "encoding": {"text": {"value": ""}}},
    {"bounds": "flush", "spacing": 0,
     "resolve": {"scale": {"color": "independent"}, "legend": {"color": "independent"}},
     "vconcat": [
      {"width": 10, "height": 4, "data": {"values": [{}]}, "mark": {"type": "text"}, "encoding": {"text": {"value": ""}}},
      {"width": 188, "height": 207, "view": {"stroke": "black", "strokeWidth": 1.2}, "data": {"name": "psd"},
       "encoding": {
         "x": {"field": "x", "type": "quantitative", "scale": {"domain": [0, 20], "nice": false, "zero": false}, "axis": {"values": [0, 2.5, 5, 7.5, 10, 12.5, 15, 17.5, 20], "labelExpr": "datum.value % 5 == 0 ? datum.label : ''", "tickSize": {"condition": {"test": "datum.value % 5 != 0", "value": 2.5}, "value": 4}, "title": "Pore Diameter /nm", "titlePadding": 0, "labelPadding": 4}},
         "y": {"field": "y", "type": "quantitative", "scale": {"domain": [-0.025, 0.273], "nice": false, "zero": false}, "axis": {"values": [0, 0.025, 0.05, 0.075, 0.1, 0.125, 0.15, 0.175, 0.2, 0.225, 0.25], "labelExpr": "round(datum.value*1000) % 50 == 0 ? format(datum.value, '.2f') : ''", "tickSize": {"condition": {"test": "round(datum.value*1000) % 50 != 0", "value": 2.5}, "value": 4}, "title": "dv/dp /cm³·nm⁻¹·g⁻¹", "titlePadding": 9}},
         "color": {"field": "s", "type": "nominal", "scale": {"domain": ["Pd/S-1", "Pd/S-1@ZSM-5-2", "Pd/S-1@ZSM-5-7", "Pd/S-1@ZSM-5-48"], "range": ["#E84A7F", "#5BC79B", "#1B5F8F", "#F5BE10"]}, "legend": {"title": null, "orient": "none", "legendX": 64, "legendY": 7}}
       },
       "layer": [
         {"mark": {"type": "line", "strokeWidth": 1.5}},
         {"transform": [{"filter": "datum.s === 'Pd/S-1'"}], "mark": {"type": "point", "filled": true, "size": 16, "opacity": 1, "shape": "square"}},
         {"transform": [{"filter": "datum.s === 'Pd/S-1@ZSM-5-2' || datum.s === 'Pd/S-1@ZSM-5-7'"}], "mark": {"type": "point", "filled": true, "size": 16, "opacity": 1, "shape": "circle"}},
         {"transform": [{"filter": "datum.s === 'Pd/S-1@ZSM-5-48'"}], "mark": {"type": "point", "filled": true, "size": 18, "opacity": 1, "shape": "diamond"}},
         {"data": {"values": [{"x": 1.9, "y": 0.254, "t": "(b)"}]}, "mark": {"type": "text", "font": "Liberation Serif", "fontWeight": "bold", "fontSize": 11.5}, "encoding": {"text": {"field": "t"}, "color": {"value": "black"}}}
       ]
      }
    ]}
  ]},
  {"width": 696, "height": 153.5, "data": {"name": "rules1"}, "mark": {"type": "rule"},
   "encoding": {
     "x": {"field": "x1", "type": "quantitative", "scale": {"domain": [0, 1], "nice": false}, "axis": null},
     "x2": {"field": "x2"},
     "y": {"field": "y", "type": "quantitative", "scale": {"domain": [0, 1], "reverse": true, "nice": false}, "axis": null},
     "color": {"field": "role", "type": "nominal", "scale": {"domain": ["top", "sub", "mid", "bottom"], "range": ["#8c8c8c", "#8c8c8c", "#3a3a3a", "#3a3a3a"]}, "legend": null},
     "size": {"field": "role", "type": "ordinal", "scale": {"domain": ["top", "sub", "mid", "bottom"], "range": [2.5, 2, 1.3, 1.3]}, "legend": null}
   }
  },
  {"bounds": "flush", "spacing": 0,
   "resolve": {"scale": {"color": "independent", "size": "independent"}, "legend": {"color": "independent", "size": "independent"}},
   "hconcat": [
    {"width": 47, "height": 10, "data": {"values": [{}]}, "mark": {"type": "text"}, "encoding": {"text": {"value": ""}}},
    {"width": 258, "height": 218, "view": {"stroke": "black", "strokeWidth": 1.2}, "data": {"name": "tpd"},
     "mark": {"type": "line", "interpolate": "monotone", "strokeWidth": 1.5},
     "encoding": {
       "x": {"field": "t", "type": "quantitative", "scale": {"domain": [119, 700], "nice": false, "zero": false}, "axis": {"values": [150, 200, 250, 300, 350, 400, 450, 500, 550, 600, 650, 700], "labelExpr": "datum.value % 100 == 0 ? datum.label : ''", "tickSize": {"condition": {"test": "datum.value % 100 != 0", "value": 2.5}, "value": 4}, "title": "Temperature (°C)", "labelFontSize": 12, "titlePadding": 5, "labelPadding": 2}},
       "y": {"field": "v", "type": "quantitative", "scale": {"domain": [-53, 600], "nice": false, "zero": false}, "axis": {"labels": false, "ticks": false, "title": "TCD response (a.u.)", "titlePadding": 12, "titleFontSize": 12}},
       "color": {"field": "s", "type": "nominal", "scale": {"domain": ["Pd/S-1", "Pd/S-1@HZSM-5-2", "Pd/S-1@HZSM-5-7", "Pd/S-1@HZSM-5-48"], "range": ["#F47C7C", "#0D5A8C", "#5ACCD0", "#FFBF1A"]}, "legend": {"title": null, "orient": "none", "legendX": 145, "legendY": 5, "labelFontSize": 10.3, "labelOffset": 7, "rowPadding": 1, "symbolStrokeWidth": 1.8}}
     }
    },
    {"width": 56, "height": 10, "data": {"values": [{}]}, "mark": {"type": "text"}, "encoding": {"text": {"value": ""}}},
    {"bounds": "flush", "spacing": 0,
     "resolve": {"scale": {"color": "independent", "size": "independent"}, "legend": {"color": "independent", "size": "independent"}},
     "vconcat": [
      {"width": 10, "height": 38, "data": {"values": [{}]}, "mark": {"type": "text"}, "encoding": {"text": {"value": ""}}},
      {"width": 335, "height": 168, "data": {"name": "rules2"}, "mark": {"type": "rule"},
       "encoding": {
         "x": {"field": "x1", "type": "quantitative", "scale": {"domain": [0, 1], "nice": false}, "axis": null},
         "x2": {"field": "x2"},
         "y": {"field": "y", "type": "quantitative", "scale": {"domain": [0, 1], "reverse": true, "nice": false}, "axis": null},
         "color": {"field": "role", "type": "nominal", "scale": {"domain": ["top", "sub", "mid", "bottom"], "range": ["#8c8c8c", "#8c8c8c", "#3a3a3a", "#3a3a3a"]}, "legend": null},
         "size": {"field": "role", "type": "ordinal", "scale": {"domain": ["top", "sub", "mid", "bottom"], "range": [2, 2, 1.3, 1.3]}, "legend": null}
       }
      }
    ]}
  ]}
]
}
